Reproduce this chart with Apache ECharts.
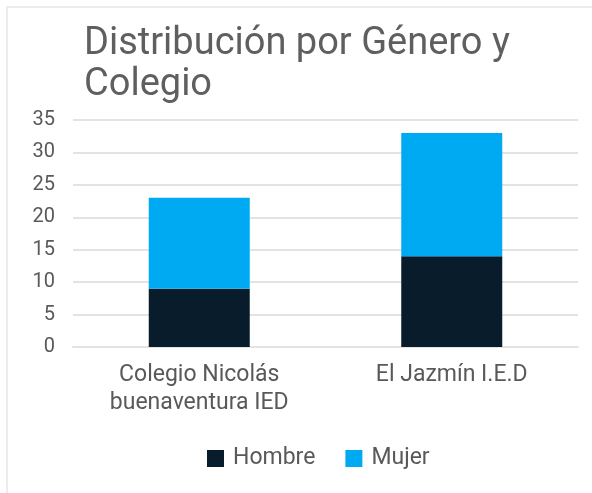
<!DOCTYPE html>
<html>
<head>
<meta charset="utf-8">
<script src="https://cdn.jsdelivr.net/npm/echarts@6/dist/echarts.min.js"></script>
<style>
  html, body { margin: 0; padding: 0; background: #fff; }
  #frame {
    position: absolute; left: 6px; top: 6px; right: 0; bottom: 0;
    border-left: 2px solid #ececec; border-top: 2px solid #ececec;
  }
  #chart { position: absolute; left: 0; top: 0; width: 592px; height: 493px; }
</style>
</head>
<body>
<div id="frame"></div>
<div id="chart"></div>
<script>
const colegios = ['Colegio Nicolás\nbuenaventura IED', 'El Jazmín I.E.D']
const hombre = [9, 14]
const mujer = [14, 19]
const yTicks = [0, 5, 10, 15, 20, 25, 30, 35]

const mychart = echarts.init(document.getElementById('chart'))
mychart.setOption({
  textStyle: { fontFamily: 'Roboto' },
  title: {
    text: 'Distribución por Género y\nColegio',
    left: 79,
    top: 19,
    textStyle: {
      fontSize: 38,
      fontWeight: 'normal',
      color: '#5f5f5f',
      lineHeight: 41,
      fontFamily: 'Roboto'
    }
  },
  // leyenda un poco a la derecha del centro, como en la imagen
  legend: {
    top: 442,
    left: 202,
    itemWidth: 17,
    itemHeight: 17,
    itemGap: 30,
    icon: 'rect',
    textStyle: { fontSize: 23, color: '#595959', padding: [0, 0, 0, 4] },
    data: ['Hombre', 'Mujer']
  },
  grid: { left: 73, right: 14, top: 120, bottom: 146 },
  xAxis: {
    type: 'category',
    data: colegios,
    axisLine: { lineStyle: { color: '#e3e3e3', width: 2 } },
    axisTick: { show: false },
    axisLabel: { fontSize: 23, color: '#595959', lineHeight: 28, margin: 14 }
  },
  yAxis: {
    type: 'value',
    min: yTicks[0],
    max: yTicks[yTicks.length - 1],
    interval: 5,
    axisLine: { show: false },
    axisTick: { show: false },
    axisLabel: { fontSize: 20, color: '#595959', margin: 18 },
    splitLine: { lineStyle: { color: '#e3e3e3', width: 2 } }
  },
  series: [
    {
      name: 'Hombre',
      type: 'bar',
      stack: 'total',
      barWidth: '40%',
      data: hombre,
      itemStyle: { color: '#081c2c' }
    },
    {
      name: 'Mujer',
      type: 'bar',
      stack: 'total',
      barWidth: '40%',
      data: mujer,
      itemStyle: { color: '#00aaf2' }
    }
  ]
})
</script>
</body>
</html>
